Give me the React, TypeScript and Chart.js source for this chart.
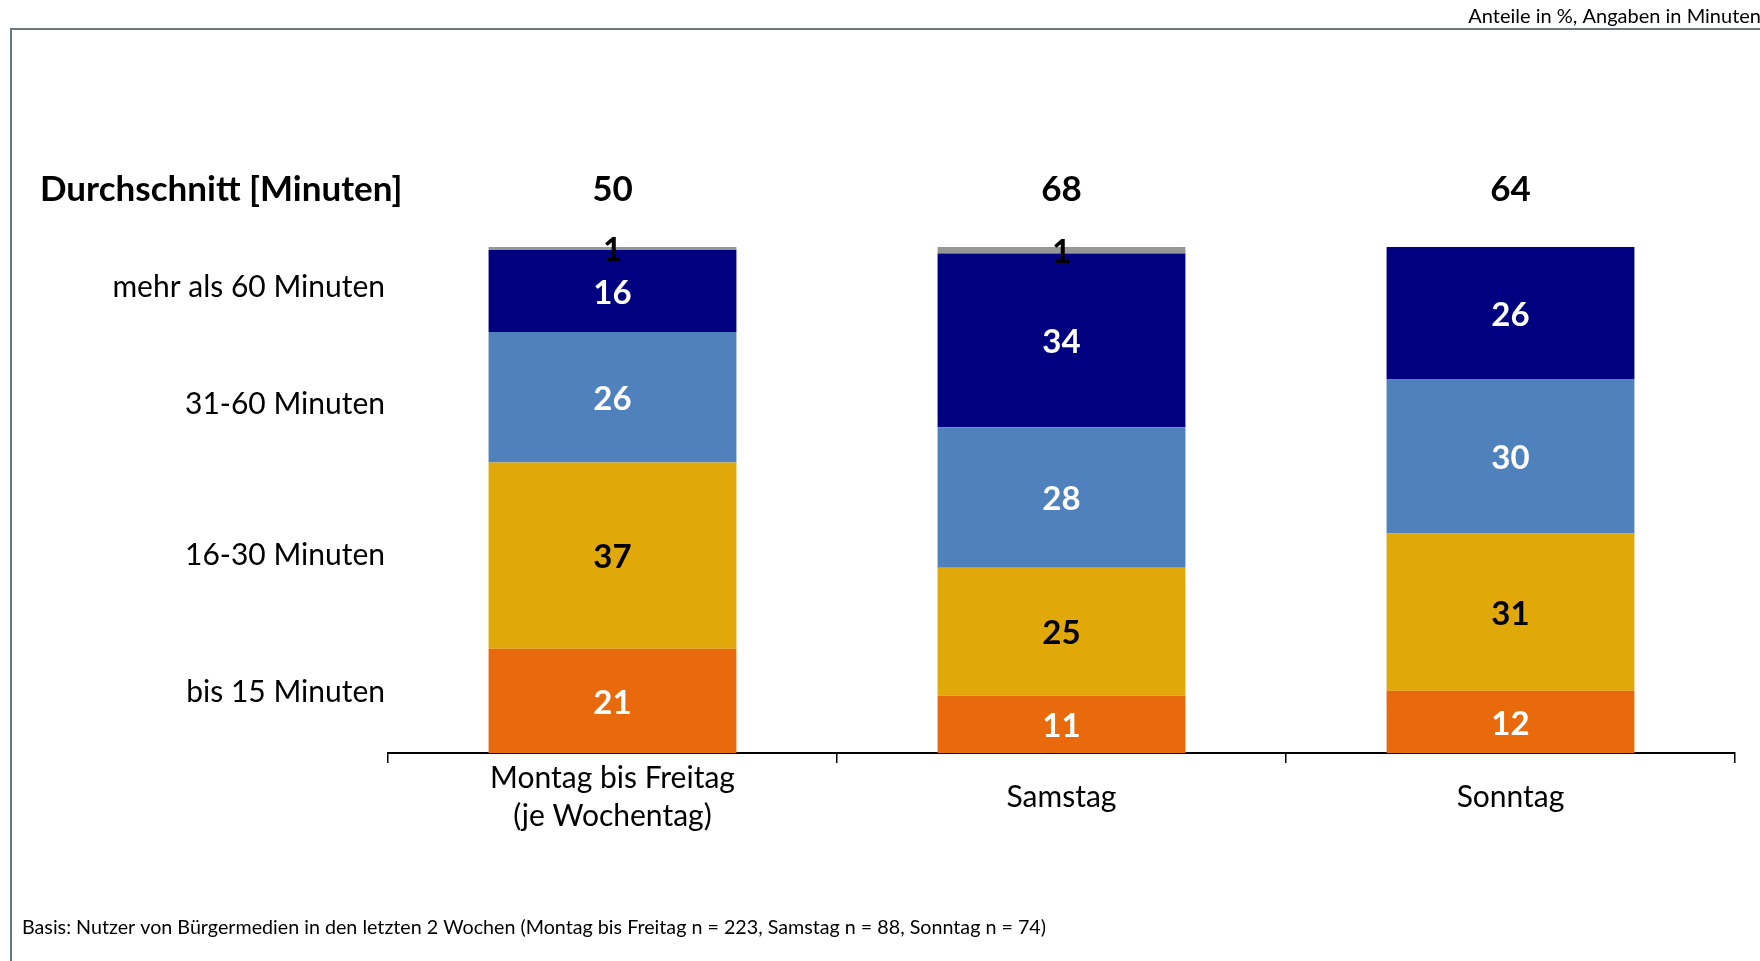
import React, { useEffect, useRef } from 'react';
import { Chart, registerables } from 'chart.js';

Chart.register(...registerables);

const categories = [['Montag bis Freitag', '(je Wochentag)'], 'Samstag', 'Sonntag'];
const averages = [50, 68, 64];
const bis15 = [20.6, 11.3, 12.3];
const m16to30 = [36.8, 25.3, 31.1];
const m31to60 = [25.8, 27.8, 30.4];
const mehr60 = [16.2, 34.3, 26.2];
const keineAngabe = [0.6, 1.3, 0];
const legendLabels = ['bis 15 Minuten', '16-30 Minuten', '31-60 Minuten', 'mehr als 60 Minuten'];
const legendAt = [12, 39, 69, 92];
const averageTitle = 'Durchschnitt [Minuten]';
const topNote = 'Anteile in %, Angaben in Minuten';
const footNote = 'Basis: Nutzer von Bürgermedien in den letzten 2 Wochen (Montag bis Freitag n = 223, Samstag n = 88, Sonntag n = 74)';

const FONT = 'Lato, "Open Sans", sans-serif';
const W = 1760;
const H = 961;

const labelColors = ['#ffffff', '#000000', '#ffffff', '#ffffff', '#000000'];

const overlayPlugin = {
  id: 'overlay',
  afterDatasetsDraw(chart: any) {
    const ctx = chart.ctx;
    ctx.save();
    ctx.textAlign = 'center';
    ctx.textBaseline = 'middle';
    ctx.font = `bold 33px ${FONT}`;
    chart.data.datasets.forEach((ds: any, di: number) => {
      const meta = chart.getDatasetMeta(di);
      meta.data.forEach((el: any, i: number) => {
        const v = ds.data[i];
        if (!v || Math.round(v) < 1) return;
        const yMid = (el.y + el.base) / 2;
        ctx.fillStyle = labelColors[di];
        ctx.fillText(String(Math.round(v)), el.x, yMid + 2);
      });
    });
    ctx.restore();
  },
  afterDraw(chart: any) {
    const ctx = chart.ctx;
    const area = chart.chartArea;
    ctx.save();
    // frame
    ctx.strokeStyle = '#6E767E';
    ctx.lineWidth = 2;
    ctx.beginPath();
    ctx.moveTo(11, H);
    ctx.lineTo(11, 29);
    ctx.lineTo(W, 29);
    ctx.stroke();
    // top-right note
    ctx.fillStyle = '#000';
    ctx.font = `20px ${FONT}`;
    ctx.textAlign = 'right';
    ctx.textBaseline = 'middle';
    ctx.fillText(topNote, W + 1, 17);
    // average row
    const rowY = area.top - 57;
    ctx.font = `bold 35px ${FONT}`;
    ctx.textAlign = 'left';
    ctx.fillText(averageTitle, 40, rowY);
    ctx.textAlign = 'center';
    const xScale = chart.scales.x;
    averages.forEach((a, i) => {
      ctx.fillText(String(a), xScale.getPixelForValue(i), rowY);
    });
    // footnote
    ctx.font = `19.7px ${FONT}`;
    ctx.textAlign = 'left';
    ctx.fillText(footNote, 22, 928);
    ctx.restore();
  },
};

export default function App() {
  const ref = useRef<HTMLCanvasElement | null>(null);
  useEffect(() => {
    if (!ref.current) return;
    const chart = new Chart(ref.current, {
      type: 'bar',
      data: {
        labels: categories as any,
        datasets: [
          { label: 'bis 15 Minuten', data: bis15, backgroundColor: '#E96A0C' },
          { label: '16-30 Minuten', data: m16to30, backgroundColor: '#E0A909' },
          { label: '31-60 Minuten', data: m31to60, backgroundColor: '#4F82BD' },
          { label: 'mehr als 60 Minuten', data: mehr60, backgroundColor: '#000080' },
          { label: 'keine Angabe', data: keineAngabe, backgroundColor: '#969696' },
        ],
      },
      options: {
        responsive: false,
        animation: false,
        devicePixelRatio: 1,
        layout: { padding: { left: 0, right: 25, top: 247, bottom: 0 } },
        datasets: { bar: { categoryPercentage: 1, barPercentage: 0.552, borderWidth: 0 } },
        plugins: { legend: { display: false }, tooltip: { enabled: false }, title: { display: false } },
        scales: {
          x: {
            stacked: true,
            grid: { display: true, drawOnChartArea: false, drawTicks: true, tickLength: 10, color: '#000', lineWidth: 1.5, offset: true },
            border: { display: true, color: '#000', width: 2 },
            ticks: { color: '#000', font: { family: FONT, size: 30, lineHeight: 1.27 }, padding: 15, crossAlign: 'center', maxRotation: 0, autoSkip: false },
            afterFit(scale: any) { scale.height = H - 753; },
          },
          y: {
            stacked: true,
            min: 0,
            max: 100,
            grid: { display: false, drawTicks: false },
            border: { display: false },
            ticks: {
              color: '#000',
              font: { family: FONT, size: 30 },
              padding: 3,
              callback: (_v: any, i: number) => legendLabels[i],
            },
            afterBuildTicks(scale: any) { scale.ticks = legendAt.map((v) => ({ value: v })); },
            afterFit(scale: any) { scale.width = 388; },
          },
        },
      },
      plugins: [overlayPlugin],
    });
    return () => chart.destroy();
  }, []);
  return (
    <div style={{ position: 'absolute', left: 0, top: 0, width: W, height: H, background: '#fff' }}>
      <canvas ref={ref} width={W} height={H} style={{ width: W, height: H, display: 'block' }} />
    </div>
  );
}
